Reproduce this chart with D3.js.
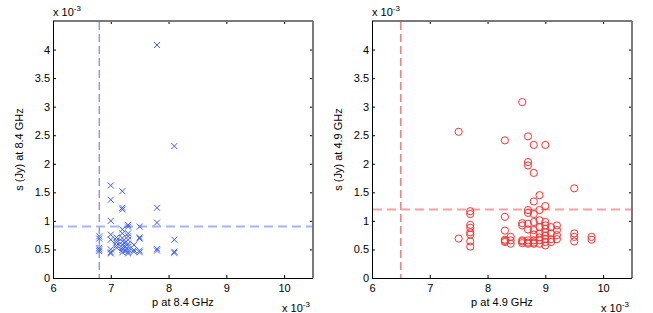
<!DOCTYPE html>
<html>
<head>
<meta charset="utf-8">
<script src="https://cdn.jsdelivr.net/npm/d3@7"></script>
<style>
  body { margin: 0; background: #fff; }
  svg { font-family: "Liberation Sans", Arial, sans-serif; }
</style>
</head>
<body>
<svg width="653" height="313"></svg>
<script>
var WIDTH = 653;
var HEIGHT = 313;

// values in units of 1e-3
var xTicks = [6, 7, 8, 9, 10];
var yTicks = [0, 0.5, 1, 1.5, 2, 2.5, 3, 3.5, 4];

// left panel: 8.4 GHz (p, s)
var p84 = [6.8, 6.8, 6.8, 6.8, 6.8,
  7.0, 7.0, 7.0, 7.0, 7.0, 7.0, 7.0, 7.0,
  7.1, 7.1, 7.1, 7.1, 7.1,
  7.2, 7.2, 7.2, 7.2, 7.2, 7.2, 7.2, 7.2, 7.2, 7.2, 7.2,
  7.25, 7.25, 7.25,
  7.3, 7.3, 7.3, 7.3, 7.3, 7.3, 7.3, 7.3, 7.3, 7.3,
  7.4, 7.4, 7.4,
  7.5, 7.5, 7.5, 7.5, 7.5,
  7.8, 7.8, 7.8, 7.8, 7.8,
  8.1, 8.1, 8.1, 8.1];
var s84 = [0.73, 0.69, 0.53, 0.50, 0.47,
  1.62, 1.37, 1.00, 0.76, 0.67, 0.50, 0.45, 0.43,
  0.71, 0.66, 0.62, 0.57, 0.53,
  1.52, 1.23, 1.20, 0.85, 0.78, 0.70, 0.64, 0.58, 0.53, 0.49, 0.45,
  0.62, 0.55, 0.48,
  0.93, 0.90, 0.78, 0.73, 0.67, 0.60, 0.55, 0.50, 0.46, 0.43,
  0.58, 0.49, 0.46,
  0.90, 0.71, 0.69, 0.48, 0.45,
  4.08, 1.23, 0.97, 0.51, 0.48,
  2.31, 0.67, 0.46, 0.44];
var pCut84 = 6.8;
var sCut84 = 0.9;

// right panel: 4.9 GHz (p, s)
var p49 = [7.5, 7.5,
  7.7, 7.7, 7.7, 7.7, 7.7, 7.7, 7.7, 7.7,
  8.3, 8.3, 8.3, 8.3, 8.3, 8.3,
  8.4, 8.4, 8.4,
  8.6, 8.6, 8.6, 8.6, 8.6, 8.6,
  8.7, 8.7, 8.7, 8.7, 8.7, 8.7, 8.7, 8.7, 8.7, 8.7,
  8.8, 8.8, 8.8, 8.8, 8.8, 8.8, 8.8, 8.8, 8.8, 8.8,
  8.9, 8.9, 8.9, 8.9, 8.9, 8.9, 8.9, 8.9,
  9.0, 9.0, 9.0, 9.0, 9.0, 9.0, 9.0, 9.0, 9.0, 9.0,
  9.1, 9.1, 9.1, 9.1,
  9.2, 9.2, 9.2, 9.2,
  9.5, 9.5, 9.5, 9.5,
  9.8, 9.8];
var s49 = [2.56, 0.69,
  1.17, 1.12, 0.93, 0.88, 0.80, 0.76, 0.64, 0.55,
  2.41, 1.07, 0.83, 0.67, 0.65, 0.63,
  0.72, 0.66, 0.60,
  3.08, 0.96, 0.92, 0.66, 0.64, 0.61,
  2.48, 2.03, 1.97, 1.19, 1.14, 0.95, 0.85, 0.66, 0.62, 0.60,
  2.33, 1.84, 1.34, 1.12, 0.98, 0.84, 0.76, 0.66, 0.62, 0.60,
  1.45, 1.19, 1.01, 0.89, 0.78, 0.71, 0.66, 0.60,
  2.33, 1.26, 0.98, 0.92, 0.86, 0.80, 0.74, 0.68, 0.63, 0.57,
  0.89, 0.78, 0.68, 0.63,
  0.92, 0.84, 0.75, 0.68,
  1.57, 0.78, 0.72, 0.64,
  0.72, 0.67];
var pCut49 = 6.5;
var sCut49 = 1.2;

var svg = d3.select('svg')
  .attr('width', WIDTH)
  .attr('height', HEIGHT);

function drawPanel(left, px, sy, pCut, sCut, opts) {
  var top = 21, w = 260, h = 257;
  var xScale = d3.scaleLinear().domain([6, 10.5]).range([left, left + w]);
  var yScale = d3.scaleLinear().domain([0, 4.5]).range([top + h, top]);
  var g = svg.append('g');

  // axes (ticks inward)
  var xAxis = g.append('g').attr('transform', 'translate(0,' + (top + h) + ')')
    .call(d3.axisBottom(xScale).tickValues(xTicks).tickSize(-3).tickPadding(6).tickFormat(d3.format('d')));
  var xTop = g.append('g').attr('transform', 'translate(0,' + top + ')')
    .call(d3.axisTop(xScale).tickValues(xTicks).tickSize(-3).tickFormat(''));
  var yAxis = g.append('g').attr('transform', 'translate(' + left + ',0)')
    .call(d3.axisLeft(yScale).tickValues(yTicks).tickSize(-3).tickPadding(3).tickFormat(function(d) { return String(d); }));
  var yRight = g.append('g').attr('transform', 'translate(' + (left + w) + ',0)')
    .call(d3.axisRight(yScale).tickValues(yTicks).tickSize(-3).tickFormat(''));
  [xAxis, xTop, yAxis, yRight].forEach(function(a) {
    a.select('.domain').remove();
    a.selectAll('text').attr('font-size', 11).attr('fill', '#000');
    a.selectAll('line').attr('stroke', '#000');
  });

  // frame: top/right edges look grey and soft, left/bottom black
  g.append('line').attr('x1', left).attr('x2', left + w).attr('y1', top).attr('y2', top)
    .attr('stroke', '#7a7a7a').attr('stroke-width', 2);
  g.append('line').attr('x1', left + w).attr('x2', left + w).attr('y1', top).attr('y2', top + h)
    .attr('stroke', '#7a7a7a').attr('stroke-width', 2);
  g.append('line').attr('x1', left + 0.5).attr('x2', left + 0.5).attr('y1', top).attr('y2', top + h)
    .attr('stroke', '#000').attr('stroke-width', 1);
  g.append('line').attr('x1', left).attr('x2', left + w).attr('y1', top + h + 0.5).attr('y2', top + h + 0.5)
    .attr('stroke', '#000').attr('stroke-width', 1);

  // threshold lines
  g.append('line')
    .attr('x1', xScale(pCut)).attr('x2', xScale(pCut))
    .attr('y1', top + 1).attr('y2', top + h)
    .attr('stroke', opts.vColor).attr('stroke-width', 1)
    .attr('stroke-dasharray', '8,4');
  g.append('line')
    .attr('x1', left + 1).attr('x2', left + w - 1)
    .attr('y1', yScale(sCut)).attr('y2', yScale(sCut))
    .attr('stroke', opts.hColor).attr('stroke-width', 2)
    .attr('stroke-dasharray', '9,5');

  // points
  var idx = d3.range(px.length);
  if (opts.marker === 'x') {
    var r = 3;
    g.selectAll('path.pt').data(idx).enter().append('path')
      .attr('class', 'pt')
      .attr('d', function(i) {
        var cx = xScale(px[i]), cy = yScale(sy[i]);
        return 'M' + (cx - r) + ',' + (cy - r) + 'L' + (cx + r) + ',' + (cy + r) +
          'M' + (cx - r) + ',' + (cy + r) + 'L' + (cx + r) + ',' + (cy - r);
      })
      .attr('stroke', opts.color).attr('stroke-width', 1).attr('fill', 'none');
  } else {
    g.selectAll('circle.pt').data(idx).enter().append('circle')
      .attr('class', 'pt')
      .attr('cx', function(i) { return xScale(px[i]); })
      .attr('cy', function(i) { return yScale(sy[i]); })
      .attr('r', 3.6)
      .attr('stroke', opts.color).attr('stroke-width', 1).attr('fill', 'none');
  }

  // labels
  g.append('text')
    .attr('x', left + w / 2).attr('y', top + h + 28)
    .attr('text-anchor', 'middle').attr('font-size', 11)
    .text(opts.xLabel);
  g.append('text')
    .attr('transform', 'translate(' + (left - 30) + ',' + (top + h / 2) + ') rotate(-90)')
    .attr('text-anchor', 'middle').attr('font-size', 11)
    .text(opts.yLabel);

  // exponent notes
  var e1 = g.append('text').attr('x', left).attr('y', 16).attr('font-size', 11);
  e1.append('tspan').text('x 10');
  e1.append('tspan').attr('dy', -5).attr('font-size', 8).text('-3');
  var e2 = g.append('text').attr('x', left + w - 31).attr('y', top + h + 34).attr('font-size', 11);
  e2.append('tspan').text('x 10');
  e2.append('tspan').attr('dy', -5).attr('font-size', 8).text('-3');
}

drawPanel(53, p84, s84, pCut84, sCut84, {
  marker: 'x', color: '#3b5cff', vColor: '#4f6ff0', hColor: '#a3b3ff',
  xLabel: 'p at 8.4 GHz', yLabel: 's (Jy) at 8.4 GHz'
});
drawPanel(372, p49, s49, pCut49, sCut49, {
  marker: 'o', color: '#ff3030', vColor: '#d84040', hColor: '#ff9e9e',
  xLabel: 'p at 4.9 GHz', yLabel: 's (Jy) at 4.9 GHz'
});
</script>
</body>
</html>
